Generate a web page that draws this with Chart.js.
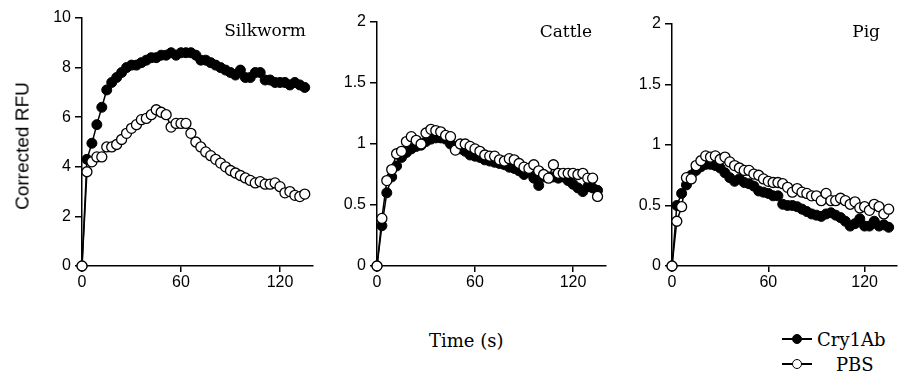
<!DOCTYPE html>
<html>
<head>
<meta charset="utf-8">
<script src="https://cdn.jsdelivr.net/npm/chart.js@4.4.1/dist/chart.umd.min.js"></script>
<style>
    body { margin: 0; background: #fff; }
    #wrap { position: relative; width: 903px; height: 376px; overflow: hidden; background: #fff; }
    #wrap canvas { position: absolute; top: 0; }
    .lbl { position: absolute; white-space: nowrap; color: #000; line-height: 1; }
    .serif { font-family: "DejaVu Serif", serif; font-size: 18px; }
    .title { font-family: "DejaVu Serif", serif; font-size: 17px; }
    .sans { font-family: "Liberation Sans", Arial, sans-serif; font-size: 19px; }
    .leg { position: absolute; height: 12px; width: 30px; }
    .leg .ln { position: absolute; left: 0; top: 5px; width: 30px; height: 2px; background: #000; }
    .leg .dot { position: absolute; left: 10px; top: 1px; width: 8px; height: 8px; border: 1.5px solid #000; border-radius: 50%; }
</style>
</head>
<body>
<div id="wrap">
    <canvas id="silkworm_plot" width="320" height="300" style="left:0px"></canvas>
    <canvas id="cattle_plot" width="292" height="300" style="left:320px"></canvas>
    <canvas id="pig_plot" width="291" height="300" style="left:612px"></canvas>

    <div class="lbl title" style="right:597px; top:22px">Silkworm</div>
    <div class="lbl title" style="right:311px; top:23px">Cattle</div>
    <div class="lbl title" style="right:23px; top:23px">Pig</div>

    <div class="lbl sans" style="left:22px; top:146px; transform: translate(-50%, -50%) rotate(-90deg);">Corrected RFU</div>
    <div class="lbl serif" style="left:429px; top:332px">Time (s)</div>

    <div class="leg" style="left:782px; top:333px"><div class="ln"></div><div class="dot" style="background:#000"></div></div>
    <div class="lbl serif" style="left:817px; top:331px">Cry1Ab</div>
    <div class="leg" style="left:782px; top:358px"><div class="ln"></div><div class="dot" style="background:#fff"></div></div>
    <div class="lbl serif" style="left:836px; top:356px">PBS</div>
</div>
<script>
// sampling times (s), shared by all panels
const times = [0, 3, 6, 9, 12, 15, 18, 21, 24, 27, 30, 33, 36, 39, 42, 45, 48, 51, 54, 57, 60, 63, 66,
    69, 72, 75, 78, 81, 84, 87, 90, 93, 96, 99, 102, 105, 108, 111, 114, 117, 120, 123, 126, 129, 132, 135];
const xTicks = [0, 60, 120];

// Silkworm
const silkwormCry1Ab = [0, 4.3, 4.95, 5.7, 6.4, 7.1, 7.4, 7.6, 7.8, 8.0, 8.1, 8.1, 8.2, 8.3, 8.4, 8.4, 8.5, 8.5,
    8.6, 8.5, 8.6, 8.6, 8.6, 8.5, 8.3, 8.3, 8.2, 8.1, 8.0, 7.9, 7.8, 7.7, 7.9, 7.6, 7.6, 7.8, 7.8, 7.5, 7.5, 7.4,
    7.4, 7.4, 7.3, 7.4, 7.3, 7.2];
const silkwormPBS = [0, 3.8, 4.2, 4.4, 4.4, 4.8, 4.8, 4.9, 5.1, 5.35, 5.55, 5.7, 5.9, 5.95, 6.1, 6.3, 6.2, 6.1,
    5.6, 5.75, 5.75, 5.75, 5.35, 5.0, 4.8, 4.6, 4.45, 4.3, 4.15, 4.0, 3.85, 3.75, 3.65, 3.55, 3.45, 3.35, 3.4, 3.3,
    3.3, 3.35, 3.2, 2.95, 3.0, 2.85, 2.8, 2.9];

// Cattle
const cattleCry1Ab = [0, 0.33, 0.6, 0.73, 0.82, 0.89, 0.93, 0.96, 0.98, 0.99, 1.02, 1.04, 1.05, 1.05, 1.04, 1.0,
    0.98, 0.96, 0.94, 0.91, 0.9, 0.89, 0.87, 0.86, 0.85, 0.84, 0.83, 0.81, 0.8, 0.78, 0.75, 0.77, 0.72, 0.66, 0.73,
    0.73, 0.73, 0.72, 0.73, 0.7, 0.67, 0.64, 0.61, 0.65, 0.64, 0.62];
const cattlePBS = [0, 0.39, 0.7, 0.79, 0.92, 0.94, 1.02, 1.06, 1.03, 1.0, 1.09, 1.12, 1.11, 1.1, 1.07, 1.06, 0.95,
    1.0, 1.0, 0.98, 0.96, 0.94, 0.91, 0.9, 0.9, 0.87, 0.86, 0.88, 0.87, 0.84, 0.81, 0.8, 0.83, 0.78, 0.75, 0.72,
    0.83, 0.76, 0.76, 0.76, 0.76, 0.75, 0.76, 0.72, 0.72, 0.57];

// Pig
const pigCry1Ab = [0, 0.5, 0.6, 0.67, 0.75, 0.79, 0.82, 0.84, 0.84, 0.83, 0.81, 0.77, 0.73, 0.7, 0.72, 0.69, 0.68,
    0.66, 0.62, 0.61, 0.6, 0.58, 0.58, 0.51, 0.5, 0.5, 0.49, 0.47, 0.45, 0.43, 0.42, 0.41, 0.43, 0.44, 0.42, 0.4,
    0.37, 0.33, 0.35, 0.39, 0.33, 0.33, 0.37, 0.33, 0.34, 0.32];
const pigPBS = [0, 0.37, 0.49, 0.73, 0.72, 0.83, 0.87, 0.91, 0.9, 0.91, 0.88, 0.9, 0.86, 0.83, 0.81, 0.79, 0.79,
    0.76, 0.75, 0.72, 0.7, 0.69, 0.69, 0.68, 0.65, 0.61, 0.64, 0.61, 0.6, 0.58, 0.58, 0.54, 0.6, 0.54, 0.54, 0.56,
    0.54, 0.51, 0.53, 0.48, 0.49, 0.46, 0.51, 0.49, 0.43, 0.47];

const tickFont = { family: "'Liberation Sans', Arial, sans-serif", size: 16 };

function toPoints(values) {
    return values.map((v, i) => ({ x: times[i], y: v }));
}

function makePanel(id, cry, pbs, yMax, yStep, yWidth, padTop, padRight) {
    const data = {
        datasets: [{
            label: "PBS",
            data: toPoints(pbs),
            borderColor: "#000",
            borderWidth: 1.5,
            backgroundColor: "#fff",
            pointBackgroundColor: "#fff",
            pointBorderColor: "#000",
            pointBorderWidth: 1.3,
            pointRadius: 5,
            tension: 0,
            clip: false,
            order: 0,
        }, {
            label: "Cry1Ab",
            data: toPoints(cry),
            borderColor: "#000",
            borderWidth: 1.5,
            backgroundColor: "#000",
            pointBackgroundColor: "#000",
            pointBorderColor: "#000",
            pointBorderWidth: 1,
            pointRadius: 5,
            tension: 0,
            clip: false,
            order: 1,
        }],
    };

    return new Chart(document.getElementById(id), {
        type: "line",
        data: data,
        options: {
            responsive: false,
            animation: false,
            devicePixelRatio: 1,
            layout: { padding: { top: padTop, right: padRight, left: 0, bottom: 0 } },
            plugins: { legend: { display: false }, tooltip: { enabled: false } },
            scales: {
                x: {
                    type: "linear",
                    min: 0,
                    max: 140,
                    z: 1,
                    afterBuildTicks: (scale) => { scale.ticks = xTicks.map(v => ({ value: v })); },
                    afterFit: (scale) => { scale.height = 34; },
                    border: { display: true, color: "#000", width: 1.5 },
                    grid: { drawOnChartArea: false, drawTicks: true, tickLength: 6, color: "#000", lineWidth: 1.5 },
                    ticks: { color: "#000", font: tickFont, padding: 1, maxRotation: 0, callback: (v) => String(v) },
                },
                y: {
                    min: 0,
                    max: yMax,
                    z: 1,
                    afterFit: (scale) => { scale.width = yWidth; },
                    border: { display: true, color: "#000", width: 1.5 },
                    grid: { drawOnChartArea: false, drawTicks: true, tickLength: 7, color: "#000", lineWidth: 1.5 },
                    ticks: { stepSize: yStep, color: "#000", font: tickFont, padding: 4, callback: (v) => String(v) },
                },
            },
        },
    });
}

makePanel("silkworm_plot", silkwormCry1Ab, silkwormPBS, 10, 2, 82, 18, 7);
makePanel("cattle_plot", cattleCry1Ab, cattlePBS, 2, 0.5, 57, 22, 4);
makePanel("pig_plot", pigCry1Ab, pigPBS, 2, 0.5, 60, 24, 0);
</script>
</body>
</html>
